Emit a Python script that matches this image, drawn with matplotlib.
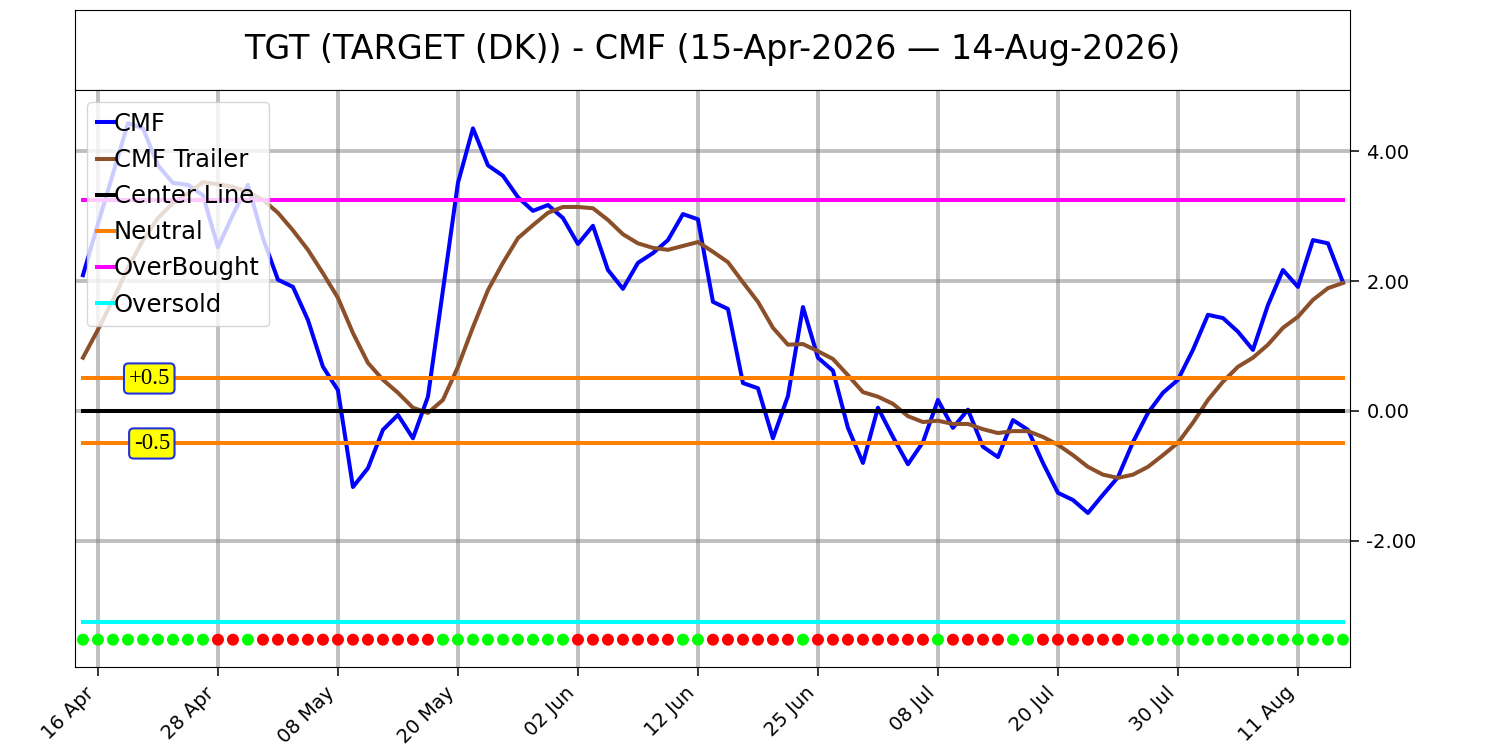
import matplotlib
matplotlib.use("Agg")
import matplotlib.pyplot as plt
import numpy as np
import pandas as pd

# trading days (US calendar) shown on the chart
dates = pd.bdate_range("2026-04-15", "2026-08-14", freq="C",
                       holidays=["2026-05-25", "2026-06-19", "2026-07-03"])

cmf = [2.09, 2.88, 3.65, 4.43, 4.35, 3.78, 3.51, 3.48, 3.32, 2.52,
       3.02, 3.48, 2.66, 2.02, 1.91, 1.40, 0.68, 0.32, -1.17, -0.88,
       -0.29, -0.06, -0.42, 0.22, 1.86, 3.51, 4.35, 3.78, 3.62, 3.29,
       3.08, 3.17, 2.97, 2.57, 2.85, 2.17, 1.88, 2.28, 2.43, 2.63,
       3.03, 2.95, 1.68, 1.57, 0.43, 0.35, -0.42, 0.23, 1.60, 0.82,
       0.62, -0.26, -0.80, 0.05, -0.40, -0.82, -0.48, 0.17, -0.26, 0.02,
       -0.55, -0.71, -0.14, -0.29, -0.80, -1.26, -1.37, -1.57, -1.29, -1.02,
       -0.48, -0.03, 0.28, 0.48, 0.94, 1.48, 1.43, 1.22, 0.94, 1.63,
       2.17, 1.91, 2.63, 2.58, 1.98]

cmf_trailer = [0.82, 1.25, 1.71, 2.20, 2.63, 2.97, 3.20, 3.35, 3.52, 3.49,
               3.45, 3.37, 3.25, 3.05, 2.78, 2.48, 2.12, 1.74, 1.20, 0.74,
               0.48, 0.28, 0.05, -0.03, 0.17, 0.68, 1.29, 1.86, 2.28, 2.66,
               2.86, 3.05, 3.14, 3.14, 3.12, 2.94, 2.72, 2.58, 2.51, 2.48,
               2.54, 2.60, 2.45, 2.29, 1.98, 1.68, 1.28, 1.02, 1.03, 0.92,
               0.80, 0.55, 0.29, 0.22, 0.11, -0.08, -0.17, -0.15, -0.20, -0.20,
               -0.28, -0.34, -0.31, -0.31, -0.40, -0.52, -0.68, -0.86, -0.98, -1.03,
               -0.98, -0.86, -0.68, -0.49, -0.18, 0.17, 0.45, 0.68, 0.82, 1.02,
               1.28, 1.45, 1.71, 1.89, 1.97]

# 1 = green dot, 0 = red dot
signal = [1, 1, 1, 1, 1, 1, 1, 1, 1, 0, 0, 1, 0, 0, 0, 0, 0, 0, 0, 0,
          0, 0, 0, 0, 1, 1, 1, 1, 1, 1, 1, 1, 1, 0, 0, 0, 0, 0, 0, 0,
          1, 1, 0, 0, 0, 0, 0, 0, 1, 0, 0, 0, 0, 0, 0, 0, 0, 1, 0, 0,
          0, 0, 1, 1, 0, 0, 0, 0, 0, 0, 1, 1, 1, 1, 1, 1, 1, 1, 1, 1,
          1, 1, 1, 1, 1]

center_line = 0.0
neutral_hi = 0.5
neutral_lo = -0.5
overbought = 3.25
oversold = -3.25
dot_level = -3.52

title = "TGT (TARGET (DK)) - CMF (15-Apr-2026 \u2014 14-Aug-2026)"

x = np.arange(len(cmf))
n = len(x)

fig = plt.figure(figsize=(15, 7.5), dpi=100)
head = fig.add_axes([0.05, 0.88, 0.85, 0.1067])
head.set_xticks([])
head.set_yticks([])
head.text(0.5, 0.5, title, ha="center", va="center", fontsize=24)

ax = fig.add_axes([0.05, 0.1107, 0.85, 0.7693])
ax.grid(True, color="gray", alpha=0.5, linewidth=2.8)
ax.set_axisbelow(True)

ax.plot(x, cmf, color="blue", lw=2.9, label="CMF")
ax.plot(x, cmf_trailer, color="#8B4F2A", lw=2.9, label="CMF Trailer")
ax.plot(x, [center_line] * n, color="black", lw=2.9, label="Center Line")
ax.plot(x, [neutral_hi] * n, color="#FF8000", lw=2.9, label="Neutral")
ax.plot(x, [neutral_lo] * n, color="#FF8000", lw=2.9)
ax.plot(x, [overbought] * n, color="magenta", lw=2.9, label="OverBought")
ax.plot(x, [oversold] * n, color="cyan", lw=2.9, label="Oversold")

cols = ["#00FF00" if s else "#FF0000" for s in signal]
ax.scatter(x, [dot_level] * n, c=cols, s=58, zorder=3)

box = dict(boxstyle="round,pad=0.2", facecolor="yellow", edgecolor="#2233dd", linewidth=1.5)
ax.text(5.8, neutral_hi, "+0.5", ha="right", va="center", fontsize=16.5,
        family="Liberation Serif", bbox=box)
ax.text(5.8, neutral_lo, "-0.5", ha="right", va="center", fontsize=16.5,
        family="Liberation Serif", bbox=box)

ax.set_xlim(-0.53, 84.47)
ax.set_ylim(-3.94, 4.94)
ticks = list(range(1, n, 8))
ax.set_xticks(ticks)
ax.set_xticklabels([dates[i].strftime("%d %b") for i in ticks],
                   rotation=45, ha="right", fontsize=14)
ax.yaxis.tick_right()
ax.set_yticks([-2, 0, 2, 4])
ax.set_yticklabels(["%.2f" % v for v in [-2, 0, 2, 4]], fontsize=14)
ax.tick_params(length=6.8, width=1.1, pad=4.9)

ax.legend(loc="upper left", fontsize=17.5, handlelength=0.7, handletextpad=0.0,
          labelspacing=0.5)

fig.savefig("out.png", dpi=100)
